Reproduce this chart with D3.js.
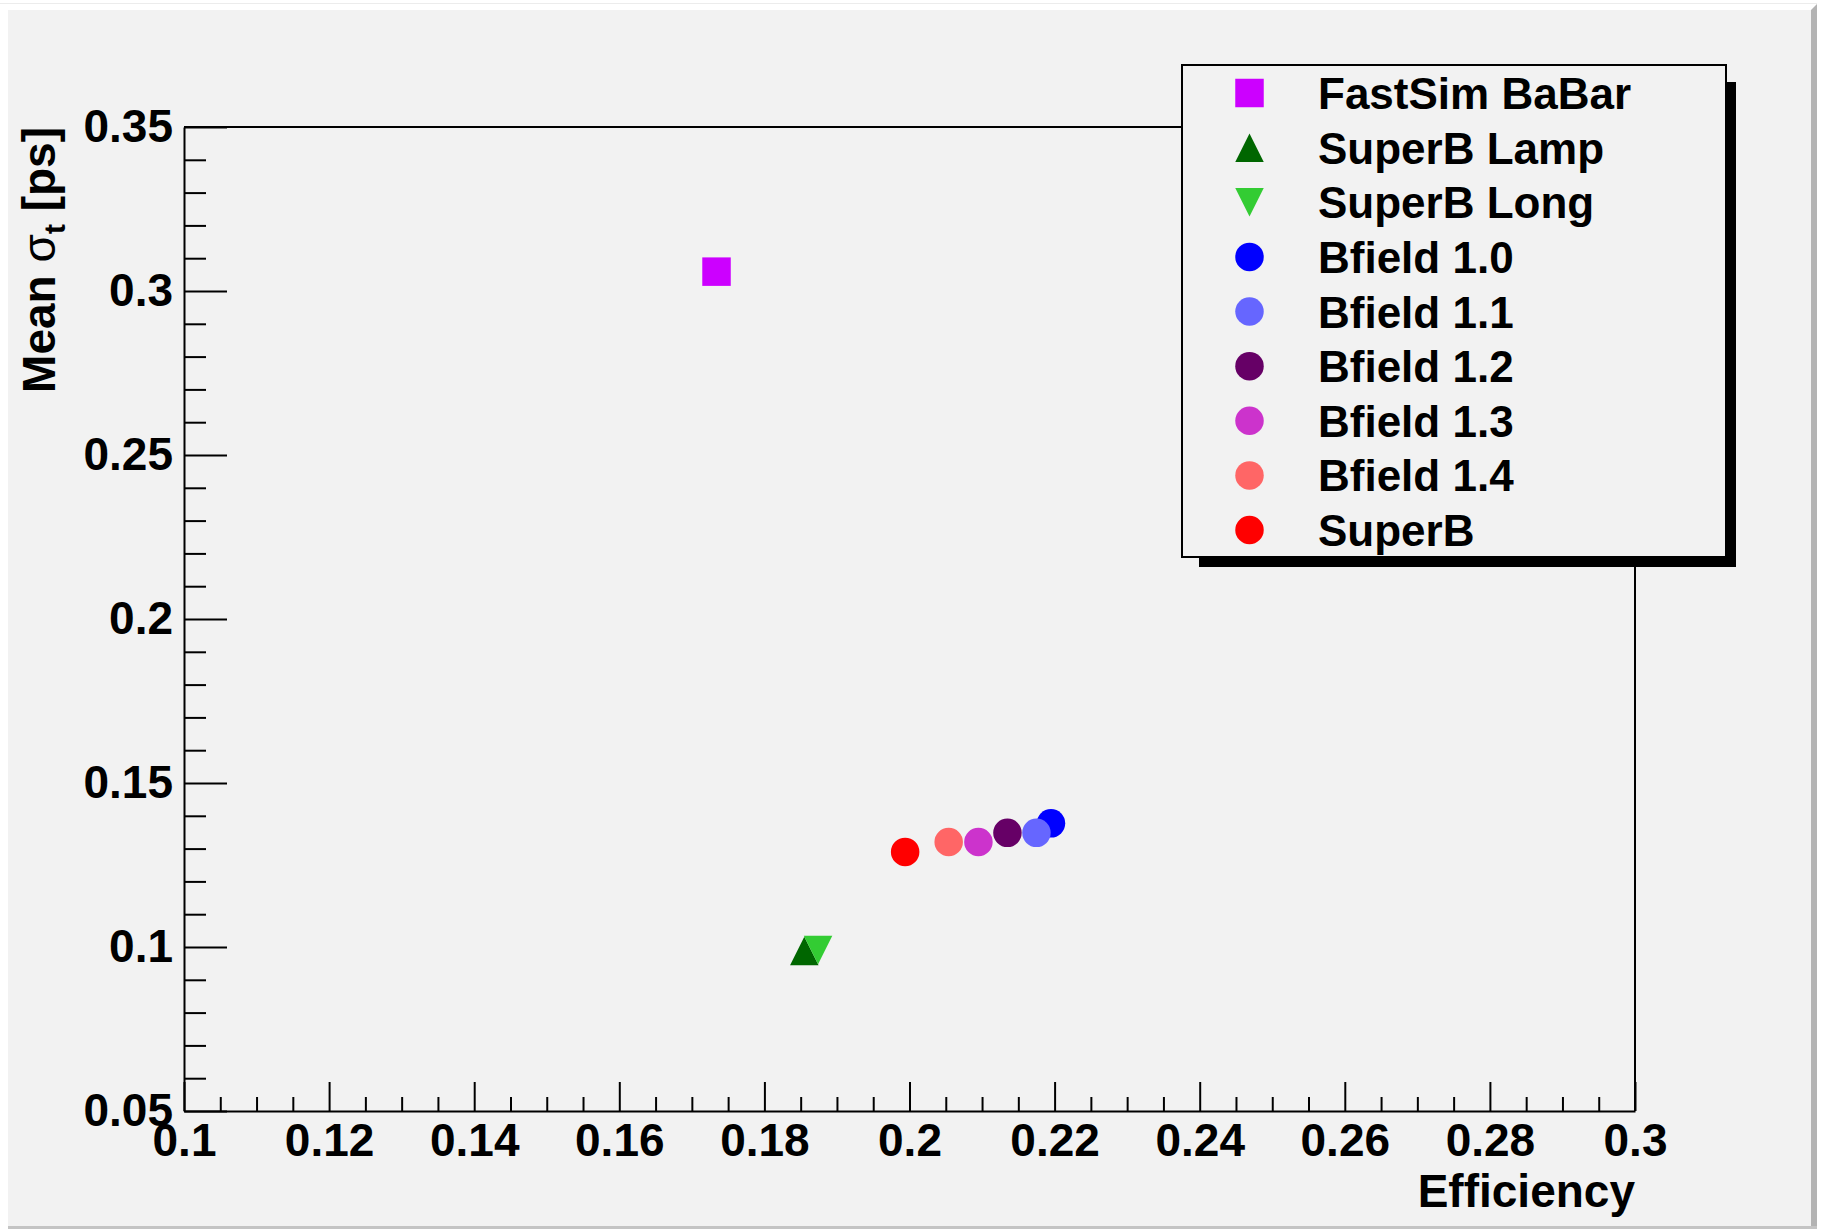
<!DOCTYPE html>
<html>
<head>
<meta charset="utf-8">
<script src="https://cdn.jsdelivr.net/npm/d3@7/dist/d3.min.js"></script>
<style>
  html, body { margin: 0; padding: 0; background: #ffffff; }
  svg { display: block; }
  text { font-family: "Liberation Sans", Arial, Helvetica, sans-serif; font-weight: bold; fill: #000; }
</style>
</head>
<body>
<script>
// Series shown in the scatter plot (one point per configuration)
const seriesNames = ["FastSim BaBar", "SuperB Lamp", "SuperB Long", "Bfield 1.0", "Bfield 1.1",
                     "Bfield 1.2", "Bfield 1.3", "Bfield 1.4", "SuperB"];
const efficiency  = [0.1734, 0.1855, 0.1874, 0.2195, 0.2175, 0.2135, 0.2095, 0.2054, 0.1994];
const meanSigmaT  = [0.3059, 0.0988, 0.0991, 0.1377, 0.1348, 0.1348, 0.1320, 0.1320, 0.1290];

// Marker styling per series
const markerColors = ["#cc00ff", "#006600", "#33cc33", "#0000ff", "#6666ff",
                      "#660066", "#cc33cc", "#ff6666", "#ff0000"];
const markerShapes = ["square", "triangleUp", "triangleDown", "circle", "circle",
                      "circle", "circle", "circle", "circle"];

// Axis ticks
const xTickValues = [0.1, 0.12, 0.14, 0.16, 0.18, 0.2, 0.22, 0.24, 0.26, 0.28, 0.3];
const xTickLabels = ["0.1", "0.12", "0.14", "0.16", "0.18", "0.2", "0.22", "0.24", "0.26", "0.28", "0.3"];
const yTickValues = [0.05, 0.1, 0.15, 0.2, 0.25, 0.3, 0.35];
const yTickLabels = ["0.05", "0.1", "0.15", "0.2", "0.25", "0.3", "0.35"];

const W = 1825, H = 1229;
const frame = { left: 184, right: 1635, top: 127, bottom: 1111 };

const svg = d3.select("body").append("svg").attr("width", W).attr("height", H);

// Canvas with bevelled border
svg.append("rect").attr("x", 0).attr("y", 0).attr("width", W).attr("height", H).attr("fill", "#ffffff");
svg.append("line").attr("x1", 0).attr("x2", 1817).attr("y1", 3.5).attr("y2", 3.5)
   .attr("stroke", "#ececec").attr("stroke-width", 1);
svg.append("rect").attr("x", 8).attr("y", 10).attr("width", 1804).attr("height", 1217).attr("fill", "#f2f2f2");
svg.append("path").attr("d", "M1811,10 L1817,4 L1817,1229 L1811,1229 Z").attr("fill", "#b3b3b3");
svg.append("rect").attr("x", 8).attr("y", 1226).attr("width", 1809).attr("height", 3).attr("fill", "#c4c4c4");

const x = d3.scaleLinear().domain([0.1, 0.3]).range([frame.left, frame.right]);
const y = d3.scaleLinear().domain([0.05, 0.35]).range([frame.bottom, frame.top]);

// Frame top and right edges
svg.append("path")
   .attr("d", `M${frame.left},${frame.top}H${frame.right}V${frame.bottom}`)
   .attr("fill", "none").attr("stroke", "#000").attr("stroke-width", 2);

// X axis: major ticks with labels, minor ticks inward
const xMinor = d3.range(0.1, 0.3001, 0.005).filter(v => Math.abs(Math.round(v / 0.02) * 0.02 - v) > 1e-6);
const xAxisG = svg.append("g").attr("transform", `translate(0,${frame.bottom})`);
xAxisG.call(d3.axisBottom(x).tickValues(xTickValues).tickFormat((d, i) => xTickLabels[i])
      .tickSizeInner(-29).tickSizeOuter(0).tickPadding(12));
xAxisG.append("g").call(d3.axisBottom(x).tickValues(xMinor).tickFormat("").tickSizeInner(-14).tickSizeOuter(0))
      .select(".domain").remove();

// Y axis
const yMinor = d3.range(0.05, 0.3501, 0.01).filter(v => Math.abs(Math.round(v / 0.05) * 0.05 - v) > 1e-6);
const yAxisG = svg.append("g").attr("transform", `translate(${frame.left},0)`);
yAxisG.call(d3.axisLeft(y).tickValues(yTickValues).tickFormat((d, i) => yTickLabels[i])
      .tickSizeInner(-43).tickSizeOuter(0).tickPadding(11));
yAxisG.append("g").call(d3.axisLeft(y).tickValues(yMinor).tickFormat("").tickSizeInner(-22).tickSizeOuter(0))
      .select(".domain").remove();

svg.selectAll(".domain").attr("stroke", "#000").attr("stroke-width", 2);
svg.selectAll(".tick line").attr("stroke", "#000").attr("stroke-width", 2);
svg.selectAll(".tick text").attr("font-family", "Liberation Sans, Arial, sans-serif")
   .attr("font-weight", "bold").attr("font-size", 46).attr("fill", "#000");

// Axis titles
svg.append("text").attr("x", frame.right).attr("y", 1207).attr("text-anchor", "end")
   .attr("font-size", 46).text("Efficiency");

const yTitle = svg.append("text").attr("transform", `translate(55,${frame.top}) rotate(-90)`)
   .attr("text-anchor", "end").attr("font-size", 46);
yTitle.append("tspan").text("Mean ");
yTitle.append("tspan").attr("font-weight", "normal").text("σ");
yTitle.append("tspan").attr("font-size", 30).attr("dy", 10).text("t");
yTitle.append("tspan").attr("dy", -10).text(" [ps]");

// Marker drawing
function markerPath(shape, cx, cy) {
  const s = 28.5, h = s / 2;
  if (shape === "square") return `M${cx - h},${cy - h}h${s}v${s}h${-s}Z`;
  if (shape === "triangleUp") return `M${cx - h},${cy + h}L${cx + h},${cy + h}L${cx},${cy - h}Z`;
  if (shape === "triangleDown") return `M${cx - h},${cy - h}L${cx + h},${cy - h}L${cx},${cy + h}Z`;
  return `M${cx - h},${cy}a${h},${h} 0 1,0 ${s},0a${h},${h} 0 1,0 ${-s},0Z`;
}

const points = seriesNames.map((name, i) => ({
  name, eff: efficiency[i], sig: meanSigmaT[i], color: markerColors[i], shape: markerShapes[i]
}));

svg.append("g").selectAll("path").data(points).join("path")
   .attr("d", d => markerPath(d.shape, x(d.eff), y(d.sig)))
   .attr("fill", d => d.color);

// Legend with drop shadow
const legend = { left: 1182, top: 65, right: 1726, bottom: 557 };
svg.append("rect").attr("x", legend.left + 17).attr("y", legend.top + 17)
   .attr("width", legend.right - legend.left - 7).attr("height", legend.bottom - legend.top - 7)
   .attr("fill", "#000");
svg.append("rect").attr("x", legend.left).attr("y", legend.top)
   .attr("width", legend.right - legend.left).attr("height", legend.bottom - legend.top)
   .attr("fill", "#f2f2f2").attr("stroke", "#000").attr("stroke-width", 2);

const rowY = d3.scalePoint().domain(seriesNames).range([93, 530]);
const lg = svg.append("g").selectAll("g").data(points).join("g");
lg.append("path").attr("d", d => markerPath(d.shape, 1249.5, rowY(d.name))).attr("fill", d => d.color);
lg.append("text").attr("x", 1318).attr("y", d => rowY(d.name) + 16)
  .attr("font-size", 44).text(d => d.name);
</script>
</body>
</html>
